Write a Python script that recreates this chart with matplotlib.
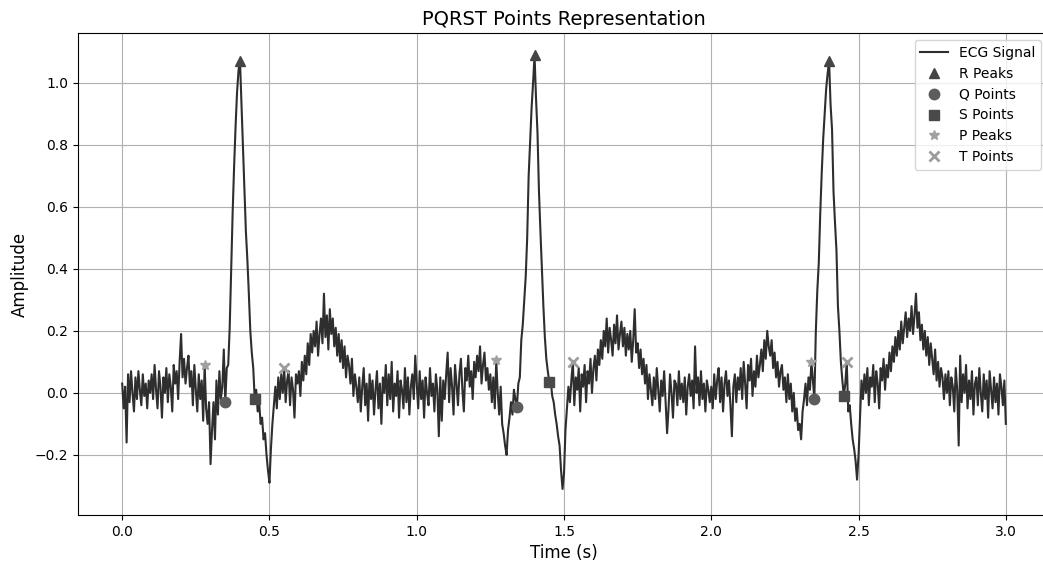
import numpy as np
import matplotlib
matplotlib.use("Agg")
import matplotlib.pyplot as plt

# ECG amplitude, one sample every 5 ms from 0 to 3 s (20 per row = 0.1 s)
ecg_amp = [
    0.03, -0.05, 0.02, -0.16, 0.06, -0.03, 0.07, 0.00, -0.06, 0.05, -0.02, 0.07, 0.01, -0.04, 0.06, -0.01, 0.03, -0.05, 0.04, 0.00,
    0.06, -0.02, 0.09, 0.01, -0.05, 0.07, 0.02, -0.08, 0.05, 0.00, 0.08, -0.03, 0.06, 0.02, -0.06, 0.09, 0.03, 0.07, -0.02, 0.10,
    0.19, 0.05, 0.11, 0.03, 0.08, 0.12, 0.02, 0.07, -0.04, 0.09, 0.01, -0.06, 0.06, -0.02, 0.04, -0.09, 0.09, -0.05, -0.10, -0.03,
    -0.23, -0.12, -0.03, -0.15, 0.04, -0.07, 0.07, -0.02, 0.02, 0.14, -0.03, 0.08, 0.09, 0.21, 0.40, 0.58, 0.73, 0.86, 0.97, 1.04,
    1.07, 0.93, 0.80, 0.64, 0.52, 0.43, 0.32, 0.20, 0.13, 0.08, -0.02, 0.01, -0.06, -0.03, -0.10, -0.08, -0.15, -0.13, -0.20, -0.25,
    -0.29, -0.18, -0.10, -0.04, 0.02, -0.05, 0.05, -0.02, 0.06, 0.00, 0.08, -0.03, 0.04, 0.07, -0.04, 0.05, 0.01, -0.08, 0.06, 0.03,
    0.07, -0.01, 0.10, 0.04, 0.12, 0.06, 0.16, 0.09, 0.19, 0.13, 0.20, 0.15, 0.23, 0.12, 0.19, 0.24, 0.16, 0.32, 0.18, 0.25,
    0.14, 0.27, 0.19, 0.24, 0.15, 0.21, 0.12, 0.19, 0.10, 0.17, 0.08, 0.15, 0.05, 0.12, 0.09, 0.03, 0.11, -0.01, 0.06, 0.02,
    -0.03, 0.05, -0.06, 0.02, 0.08, -0.04, 0.03, -0.09, 0.06, -0.02, 0.04, -0.07, 0.01, 0.07, -0.05, 0.03, -0.10, 0.05, 0.00, 0.09,
    -0.04, 0.06, -0.02, 0.10, -0.06, 0.03, -0.01, 0.07, -0.08, 0.04, 0.01, -0.05, 0.08, -0.03, 0.05, -0.07, 0.02, 0.06, -0.02, 0.12,
    0.03, -0.05, 0.07, -0.02, 0.04, -0.08, 0.05, 0.00, -0.04, 0.08, -0.01, 0.03, -0.06, 0.06, 0.01, -0.14, 0.05, -0.09, 0.04, -0.02,
    0.06, 0.13, -0.03, 0.08, 0.02, -0.07, 0.09, 0.03, -0.04, 0.06, 0.11, 0.01, -0.06, 0.08, 0.04, 0.12, 0.02, 0.07, -0.02, 0.10,
    0.05, 0.12, 0.07, 0.15, 0.03, 0.09, 0.13, 0.04, 0.08, 0.01, 0.06, -0.03, 0.05, -0.05, 0.105, 0.00, -0.07, 0.02, -0.10, -0.13,
    -0.17, -0.20, -0.12, -0.08, -0.03, -0.07, 0.01, -0.02, -0.045, 0.03, 0.05, 0.17, 0.22, 0.30, 0.375, 0.50, 0.70, 0.81, 0.92, 1.00,
    1.09, 0.95, 0.84, 0.65, 0.52, 0.40, 0.28, 0.18, 0.11, 0.07, 0.035, 0.04, -0.01, -0.03, -0.07, -0.10, -0.14, -0.17, -0.25, -0.31,
    -0.26, -0.12, -0.05, 0.02, -0.03, 0.04, 0.10, -0.04, 0.05, 0.01, 0.08, -0.06, 0.06, 0.02, 0.09, -0.03, 0.07, 0.03, 0.11, 0.00,
    0.08, 0.12, 0.04, 0.14, 0.09, 0.17, 0.11, 0.20, 0.15, 0.24, 0.13, 0.21, 0.17, 0.12, 0.22, 0.16, 0.25, 0.14, 0.19, 0.23,
    0.15, 0.21, 0.12, 0.19, 0.14, 0.20, 0.10, 0.17, 0.27, 0.13, 0.16, 0.08, 0.14, 0.06, 0.11, 0.03, 0.09, -0.02, 0.06, 0.01,
    -0.04, 0.05, -0.02, 0.08, 0.01, -0.06, 0.04, -0.01, 0.07, -0.03, -0.13, -0.05, 0.06, 0.00, -0.08, 0.04, 0.03, -0.04, 0.07, -0.02,
    0.03, -0.03, 0.05, -0.07, 0.02, 0.06, -0.01, 0.04, -0.05, 0.15, 0.00, 0.05, -0.04, 0.07, -0.02, 0.03, -0.06, 0.04, 0.01, -0.03,
    0.02, -0.05, 0.06, -0.02, 0.04, 0.08, -0.03, 0.05, -0.06, 0.03, 0.07, -0.01, 0.04, -0.04, -0.14, 0.02, 0.06, -0.03, 0.05, 0.01,
    0.08, -0.02, 0.10, 0.03, -0.05, 0.09, 0.04, 0.11, -0.01, 0.07, 0.02, 0.12, 0.05, 0.09, 0.14, 0.07, 0.17, 0.11, 0.20, 0.15,
    0.12, 0.17, 0.08, 0.13, 0.05, 0.10, 0.02, 0.07, 0.09, 0.01, 0.05, -0.03, 0.06, -0.02, 0.03, -0.06, 0.00, -0.09, -0.05, -0.12,
    -0.10, -0.15, -0.06, -0.02, 0.03, -0.04, 0.05, 0.01, 0.10, 0.04, -0.02, 0.20, 0.33, 0.42, 0.58, 0.71, 0.82, 0.90, 0.98, 1.03,
    1.07, 0.93, 0.85, 0.65, 0.55, 0.46, 0.28, 0.20, 0.10, 0.04, -0.01, 0.03, 0.10, -0.06, -0.04, -0.10, -0.15, -0.18, -0.22, -0.28,
    -0.20, -0.08, 0.04, -0.02, 0.06, 0.00, 0.08, -0.04, 0.05, 0.02, 0.09, -0.03, 0.07, 0.03, -0.05, 0.08, 0.04, 0.11, 0.01, 0.09,
    0.05, 0.13, 0.07, 0.15, 0.10, 0.18, 0.12, 0.20, 0.14, 0.23, 0.16, 0.21, 0.26, 0.18, 0.24, 0.20, 0.28, 0.19, 0.25, 0.32,
    0.21, 0.26, 0.17, 0.22, 0.14, 0.20, 0.12, 0.18, 0.09, 0.16, 0.11, 0.06, 0.14, 0.04, 0.10, 0.02, 0.08, 0.05, -0.02, 0.06,
    0.00, 0.07, -0.04, 0.05, 0.02, -0.06, 0.08, 0.01, -0.17, 0.12, -0.03, 0.06, 0.00, 0.09, -0.05, 0.04, -0.02, 0.07, -0.07, 0.03,
    0.05, -0.04, 0.08, 0.00, -0.06, 0.06, -0.02, 0.04, -0.08, 0.07, 0.01, -0.05, 0.05, -0.03, 0.03, -0.07, 0.06, 0.02, -0.04, 0.04,
    -0.10,
]
time_s = np.linspace(0, 3, len(ecg_amp))

# detected points
r_time = [0.40, 1.40, 2.40]
r_amp = [1.07, 1.09, 1.07]
q_time = [0.35, 1.34, 2.35]
q_amp = [-0.03, -0.045, -0.02]
s_time = [0.45, 1.45, 2.45]
s_amp = [-0.02, 0.035, -0.01]
p_time = [0.28, 1.27, 2.34]
p_amp = [0.09, 0.105, 0.10]
t_time = [0.55, 1.53, 2.46]
t_amp = [0.08, 0.10, 0.10]

fig = plt.figure(figsize=(10.43, 5.68), dpi=100)
ax = fig.add_axes([78 / 1043, 53 / 568, 972 / 1043, 482 / 568])

ax.plot(time_s, ecg_amp, color="#2e2e2e", lw=1.5, label="ECG Signal")
ax.plot(r_time, r_amp, "^", ls="none", color="#454545", ms=7.5, label="R Peaks")
ax.plot(q_time, q_amp, "o", ls="none", color="#5c5c5c", ms=7.5, label="Q Points")
ax.plot(s_time, s_amp, "s", ls="none", color="#4a4a4a", ms=7, label="S Points")
ax.plot(p_time, p_amp, "*", ls="none", color="#a0a0a0", ms=7.5, label="P Peaks")
ax.plot(t_time, t_amp, "x", ls="none", color="#9c9c9c", ms=7.5, mew=2, label="T Points")

ax.set_xlim(-0.15, 3.15)
ax.set_ylim(-0.394, 1.161)
ax.spines["right"].set_visible(False)
ax.set_title("PQRST Points Representation", fontsize=14)
ax.set_xlabel("Time (s)", fontsize=12)
ax.set_ylabel("Amplitude", fontsize=12)
ax.grid(True)
ax.legend(loc="upper right", bbox_to_anchor=(1041 / 1043, 1 - 40 / 568),
          bbox_transform=fig.transFigure, borderaxespad=0, fontsize=10)

fig.savefig("out.png", dpi=100)
